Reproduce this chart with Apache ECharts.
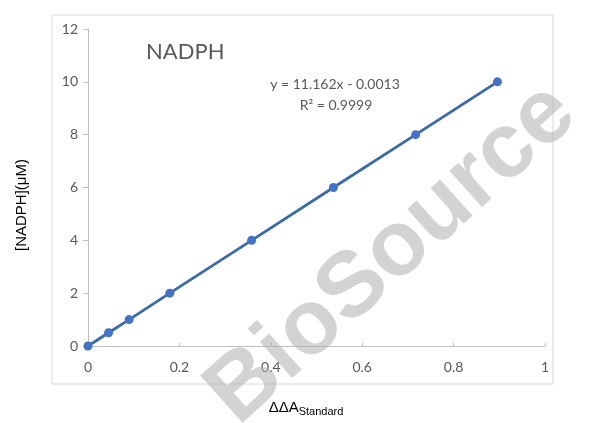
<!DOCTYPE html>
<html>
<head>
<meta charset="utf-8">
<script src="https://cdn.jsdelivr.net/npm/echarts@6/dist/echarts.min.js"></script>
<style>
  html, body { margin: 0; padding: 0; background: #fff; }
  #main { width: 600px; height: 423px; }
</style>
</head>
<body>
<div id="main"></div>
<script>
// standard curve points
const deltaA = [0, 0.045, 0.09, 0.179, 0.358, 0.537, 0.717, 0.896];
const nadph = [0, 0.5, 1, 2, 4, 6, 8, 10];

const chartTitle = "NADPH";
const fitLine = "y = 11.162x - 0.0013";
const fitR2 = "R\u00b2 = 0.9999";

const axisGrey = "#bfbfbf";
const labelGrey = "#595959";

const chart = echarts.init(document.getElementById("main"));

chart.setOption({
  animation: false,
  grid: { left: 88, right: 55, top: 29, bottom: 77 },
  xAxis: {
    type: "value",
    min: 0,
    max: 1,
    interval: 0.2,
    splitLine: { show: false },
    axisLine: { lineStyle: { color: axisGrey } },
    axisTick: { show: true, inside: true, length: 3, lineStyle: { color: axisGrey } },
    axisLabel: { color: labelGrey, fontSize: 14, fontFamily: "Lato", margin: 14 }
  },
  yAxis: {
    type: "value",
    min: 0,
    max: 12,
    interval: 2,
    splitLine: { show: false },
    axisLine: { show: true, lineStyle: { color: axisGrey } },
    axisTick: { show: true, length: 5, lineStyle: { color: axisGrey } },
    axisLabel: { color: labelGrey, fontSize: 14, fontFamily: "Lato", margin: 10 }
  },
  series: [{
    type: "line",
    data: deltaA.map((x, i) => [x, nadph[i]]),
    symbol: "circle",
    symbolSize: 9,
    itemStyle: { color: "#4472c4" },
    lineStyle: { color: "#3a6aa8", width: 2.8 },
    z: 3
  }],
  graphic: [
    {
      type: "rect",
      shape: { x: 52, y: 15, width: 501, height: 369 },
      style: { fill: null, stroke: "#d9d9d9", lineWidth: 1 },
      silent: true
    },
    {
      type: "text",
      x: 146, y: 41,
      style: { text: chartTitle, fontSize: 22, fontFamily: "Lato", fill: labelGrey }
    },
    {
      type: "text",
      x: 335, y: 84,
      style: { text: fitLine, fontSize: 14, fontFamily: "Lato", fill: labelGrey, textAlign: "center", textVerticalAlign: "middle" }
    },
    {
      type: "text",
      x: 336, y: 105,
      style: { text: fitR2, fontSize: 14, fontFamily: "Lato", fill: labelGrey, textAlign: "center", textVerticalAlign: "middle" }
    },
    {
      // y axis title
      type: "text",
      x: 22, y: 205,
      rotation: Math.PI / 2,
      style: { text: "[NADPH](μM)", fontSize: 15, fontFamily: "Arial", fill: "#000", textAlign: "center", textVerticalAlign: "middle" }
    },
    {
      // x axis title with subscript
      type: "text",
      x: 306, y: 408,
      style: {
        text: "{a|ΔΔA}{b|Standard}",
        textAlign: "center",
        textVerticalAlign: "middle",
        rich: {
          a: { fontSize: 15, fontFamily: "Arial", fill: "#000" },
          b: { fontSize: 11, fontFamily: "Arial", fill: "#000", padding: [7, 0, 0, 0] }
        }
      }
    },
    {
      type: "text",
      x: 392, y: 254,
      rotation: 42 * Math.PI / 180,
      z: 10,
      silent: true,
      style: {
        text: "BioSource",
        fontSize: 92,
        fontWeight: "bold",
        fontFamily: "Liberation Sans",
        fill: "rgba(175,175,175,0.55)",
        textAlign: "center",
        textVerticalAlign: "middle"
      }
    }
  ]
});
</script>
</body>
</html>
